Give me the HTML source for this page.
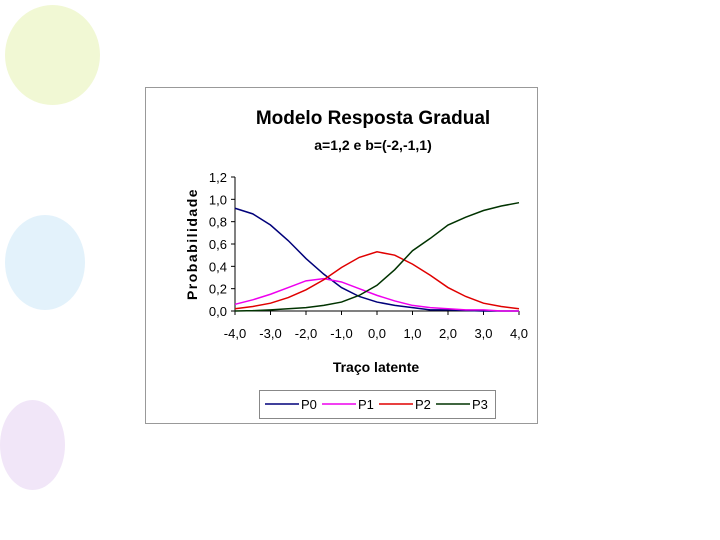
<!DOCTYPE html>
<html><head><meta charset="utf-8"><style>
body{margin:0;width:720px;height:540px;background:#fff;overflow:hidden;position:relative;font-family:"Liberation Sans",Arial,sans-serif}
.b{position:absolute;border-radius:50%}
</style></head><body>
<div class="b" style="left:5px;top:5px;width:95px;height:100px;background:#f1f8d4"></div>
<div class="b" style="left:5px;top:215px;width:80px;height:95px;background:#e3f2fb"></div>
<div class="b" style="left:0px;top:400px;width:65px;height:90px;background:#f1e6f8"></div>
<svg id="c" width="720" height="540" style="position:absolute;left:0;top:0"></svg>
<script>
const xs=[-4,-3.5,-3,-2.5,-2,-1.5,-1,-0.5,0,0.5,1,1.5,2,2.5,3,3.5,4];
const p0=[0.92,0.87,0.77,0.63,0.47,0.33,0.21,0.13,0.08,0.05,0.03,0.01,0.01,0.005,0,0,0];
const p1=[0.06,0.10,0.15,0.21,0.27,0.29,0.26,0.20,0.14,0.09,0.05,0.03,0.02,0.01,0.01,0,0];
const p2=[0.02,0.04,0.07,0.12,0.19,0.28,0.39,0.48,0.53,0.50,0.42,0.32,0.21,0.13,0.07,0.04,0.02];
const p3=[0,0.003,0.01,0.02,0.03,0.05,0.08,0.14,0.23,0.37,0.54,0.65,0.77,0.84,0.90,0.94,0.97];
const yTicks=["0,0","0,2","0,4","0,6","0,8","1,0","1,2"];
const xTicks=["-4,0","-3,0","-2,0","-1,0","0,0","1,0","2,0","3,0","4,0"];
const names=["P0","P1","P2","P3"];
const colors=["#00007a","#ee00ee","#e00000","#003300"];
const series=[p0,p1,p2,p3];
const X=v=>235+(v+4)/8*284, Y=v=>311-v/1.2*134;
const s=document.getElementById('c'),NS="http://www.w3.org/2000/svg";
function el(t,a,txt){const e=document.createElementNS(NS,t);for(const k in a)e.setAttribute(k,a[k]);if(txt!==undefined)e.textContent=txt;s.appendChild(e);return e;}
let e;
e=el('rect',{x:145.5,y:87.5,width:392,height:336,fill:"#fff",stroke:"#999"});


e=el('text',{x:373,y:124,'text-anchor':'middle','font-size':19,'font-weight':'bold'},"Modelo Resposta Gradual");


e=el('text',{x:373,y:150,'text-anchor':'middle','font-size':14,'font-weight':'bold'},"a=1,2 e b=(-2,-1,1)");


el('line',{x1:235,y1:177,x2:235,y2:311,stroke:"#000"});
el('line',{x1:235,y1:311,x2:519,y2:311,stroke:"#000"});
yTicks.forEach((t,i)=>{const y=Y(i*0.2);el('line',{x1:231,y1:y,x2:235,y2:y,stroke:"#000"});
e=el('text',{x:227,y:y+5,'text-anchor':'end','font-size':13},t);

});
xTicks.forEach((t,i)=>{const x=X(i-4);el('line',{x1:x,y1:311,x2:x,y2:315,stroke:"#000"});
e=el('text',{x:x,y:338,'text-anchor':'middle','font-size':13},t);

});
e=el('text',{x:376,y:372,'text-anchor':'middle','font-size':14,'font-weight':'bold'},"Traço latente");


e=el('text',{x:0,y:0,transform:"translate(197,244) rotate(-90)",'text-anchor':'middle','font-size':14,'font-weight':'bold','letter-spacing':'1.5'},"Probabilidade");


series.forEach((d,k)=>{e=el('polyline',{points:d.map((v,i)=>X(xs[i])+","+Y(v)).join(" "),fill:"none",stroke:colors[k],'stroke-width':1.5});

});
e=el('rect',{x:259.5,y:390.5,width:236,height:28,fill:"#fff",stroke:"#888"});


names.forEach((n,k)=>{const x0=265+k*57;el('line',{x1:x0,y1:404,x2:x0+34,y2:404,stroke:colors[k],'stroke-width':1.5});
e=el('text',{x:x0+36,y:409,'font-size':13},n);

});
</script>
</body></html>
